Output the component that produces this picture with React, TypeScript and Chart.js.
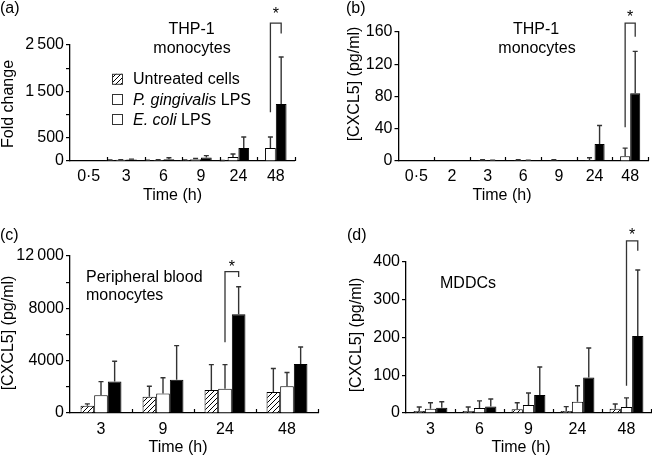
import React, { useEffect, useRef } from 'react';
import { Chart, registerables } from 'chart.js';

Chart.register(...registerables);

const FONT = '"Liberation Sans", Arial, Helvetica, sans-serif';
const W = 652;
const H = 458;

// ---------- Panel (a): THP-1 monocytes, fold change ----------
const aCategories = ['0\u00b75', '3', '6', '9', '24', '48'];
const aUntreated = [0, 15, 10, 20, 5, 0];
const aUntreatedSd = [0, 5, 5, 5, 5, 0];
const aPg = [0, 25, 20, 40, 85, 280];
const aPgSd = [0, 5, 10, 15, 65, 237];
const aEc = [0, 30, 40, 75, 280, 1230];
const aEcSd = [0, 10, 30, 40, 237, 1010];
const aTickValues = [0, 500, 1000, 1500, 2000, 2500];
const aTickLabels = ['0', '500', '', '1\u2009500', '', '2\u2009500'];
const aBracket = { group: 5, leftBottom: 1050, rightBottom: 2750, top: 2970 };

// ---------- Panel (b): THP-1 monocytes, CXCL5 pg/ml ----------
const bCategories = ['0\u00b75', '2', '3', '6', '9', '24', '48'];
const bUntreated = [0, 0, 0, 0, 0, 0, 0];
const bUntreatedSd = [0, 0, 0, 0, 0, 0, 0];
const bPg = [0, 0, 1, 1, 1, 1, 6];
const bPgSd = [0, 0, 0.5, 0.5, 0.5, 3, 10];
const bEc = [0, 0, 0.5, 0.5, 0.5, 21, 84];
const bEcSd = [0, 0, 0.5, 0.5, 0, 23, 52];
const bTickValues = [0, 20, 40, 60, 80, 100, 120, 140, 160];
const bTickLabels = ['0', '', '40', '', '80', '', '120', '', '160'];
const bBracket = { group: 6, leftBottom: 42, rightBottom: 154, top: 171 };

// ---------- Panel (c): peripheral blood monocytes ----------
const cCategories = ['3', '9', '24', '48'];
const cUntreated = [550, 1250, 1750, 1600];
const cUntreatedSd = [150, 800, 1950, 1800];
const cPg = [1350, 1500, 1850, 2050];
const cPgSd = [1050, 1200, 1850, 1050];
const cEc = [2400, 2550, 7550, 3750];
const cEcSd = [1550, 2600, 2100, 1300];
const cTickValues = [0, 2000, 4000, 6000, 8000, 10000, 12000];
const cTickLabels = ['0', '', '4000', '', '8000', '', '12\u2009000'];
const cBracket = { group: 2, leftBottom: 5400, rightBottom: 10400, top: 10800 };

// ---------- Panel (d): MDDCs ----------
const dCategories = ['3', '6', '9', '24', '48'];
const dUntreated = [5, 5, 10, 5, 11];
const dUntreatedSd = [11, 11, 17, 12, 13];
const dPg = [11, 13, 21, 30, 16];
const dPgSd = [16, 19, 32, 42, 24];
const dEc = [14, 17, 48, 94, 204];
const dEcSd = [16, 20, 74, 78, 175];
const dTickValues = [0, 50, 100, 150, 200, 250, 300, 350, 400];
const dTickLabels = ['0', '', '100', '', '200', '', '300', '', '400'];
const dBracket = { group: 4, leftBottom: 72, rightBottom: 430, top: 456 };

const seriesNames = ['Untreated cells', 'P. gingivalis LPS', 'E. coli LPS'];

type Fill = 'hatch' | 'white' | 'black';
type TextItem = { t: string; x: number; y: number; align?: CanvasTextAlign };
type Panel = {
  categories: string[];
  series: { values: number[]; sd: number[]; fill: Fill }[];
  yMax: number;
  tickValues: number[];
  tickLabels: string[];
  area: { l: number; r: number; t: number; b: number };
  catPct: number;
  slots: number;
  xPad: number;
  bracket: { group: number; leftBottom: number; rightBottom: number; top: number };
  starDy: number;
  texts: TextItem[];
  yTitle: { t: string; x: number; y: number };
  xTitle: { t: string; x: number; y: number };
  legend: boolean;
};

const fills: Fill[] = ['hatch', 'white', 'black'];
function mkSeries(vals: number[][], sds: number[][]) {
  return vals.map((v, i) => ({ values: v, sd: sds[i], fill: fills[i] }));
}

const PANELS: Panel[] = [
  {
    categories: aCategories,
    series: mkSeries([aUntreated, aPg, aEc], [aUntreatedSd, aPgSd, aEcSd]),
    yMax: 2500,
    tickValues: aTickValues,
    tickLabels: aTickLabels,
    area: { l: 70, r: 294.5, t: 45, b: 161 },
    catPct: 1.15,
    slots: 4,
    xPad: 5.5,
    bracket: aBracket,
    starDy: -4.5,
    texts: [
      { t: '(a)', x: 0, y: 12.5 },
      { t: 'THP-1', x: 191.5, y: 33.5, align: 'center' },
      { t: 'monocytes', x: 192, y: 52.5, align: 'center' },
    ],
    yTitle: { t: 'Fold change', x: 9, y: 104 },
    xTitle: { t: 'Time (h)', x: 172.5, y: 196 },
    legend: true,
  },
  {
    categories: bCategories,
    series: mkSeries([bUntreated, bPg, bEc], [bUntreatedSd, bPgSd, bEcSd]),
    yMax: 160,
    tickValues: bTickValues,
    tickLabels: bTickLabels,
    area: { l: 398.5, r: 648, t: 32, b: 161 },
    catPct: 1.13,
    slots: 4,
    xPad: 5.5,
    bracket: bBracket,
    starDy: -1.5,
    texts: [
      { t: '(b)', x: 346, y: 12.5 },
      { t: 'THP-1', x: 536, y: 33.5, align: 'center' },
      { t: 'monocytes', x: 537, y: 52.5, align: 'center' },
    ],
    yTitle: { t: '[CXCL5] (pg/ml)', x: 355, y: 84 },
    xTitle: { t: 'Time (h)', x: 502, y: 196 },
    legend: false,
  },
  {
    categories: cCategories,
    series: mkSeries([cUntreated, cPg, cEc], [cUntreatedSd, cPgSd, cEcSd]),
    yMax: 12000,
    tickValues: cTickValues,
    tickLabels: cTickLabels,
    area: { l: 70, r: 318, t: 256, b: 413 },
    catPct: 0.66,
    slots: 3,
    xPad: 6.5,
    bracket: cBracket,
    starDy: 0,
    texts: [
      { t: '(c)', x: 0, y: 240 },
      { t: 'Peripheral blood', x: 86, y: 281.5 },
      { t: 'monocytes', x: 86, y: 300 },
    ],
    yTitle: { t: '[CXCL5] (pg/ml)', x: 9, y: 333 },
    xTitle: { t: 'Time (h)', x: 178, y: 448 },
    legend: false,
  },
  {
    categories: dCategories,
    series: mkSeries([dUntreated, dPg, dEc], [dUntreatedSd, dPgSd, dEcSd]),
    yMax: 400,
    tickValues: dTickValues,
    tickLabels: dTickLabels,
    area: { l: 406, r: 651, t: 262, b: 413 },
    catPct: 0.69,
    slots: 3,
    xPad: 6.5,
    bracket: dBracket,
    starDy: -1,
    texts: [
      { t: '(d)', x: 347, y: 240 },
      { t: 'MDDCs', x: 440, y: 287.5 },
    ],
    yTitle: { t: '[CXCL5] (pg/ml)', x: 357, y: 335 },
    xTitle: { t: 'Time (h)', x: 521, y: 448 },
    legend: false,
  },
];

function makeHatch(ctx: CanvasRenderingContext2D): CanvasPattern | string {
  const c = document.createElement('canvas');
  const s = 5;
  c.width = s;
  c.height = s;
  const g = c.getContext('2d');
  if (!g) return '#fff';
  g.fillStyle = '#fff';
  g.fillRect(0, 0, s, s);
  g.strokeStyle = '#000';
  g.lineWidth = 1;
  g.beginPath();
  g.moveTo(-1, s + 1);
  g.lineTo(s + 1, -1);
  g.moveTo(-1, 1);
  g.lineTo(1, -1);
  g.moveTo(s - 1, s + 1);
  g.lineTo(s + 1, s - 1);
  g.stroke();
  return ctx.createPattern(c, 'repeat') || '#fff';
}

const YW = 62;
const XH = 30;

function buildChart(canvas: HTMLCanvasElement, p: Panel): Chart {
  const ctx = canvas.getContext('2d') as CanvasRenderingContext2D;
  const hatch = makeHatch(ctx);
  const colorFor = (f: Fill) => (f === 'hatch' ? hatch : f === 'white' ? '#ffffff' : '#000000');

  const datasets: any[] = p.series.map((s, k) => ({
    label: seriesNames[k],
    data: s.values,
    backgroundColor: colorFor(s.fill),
    borderColor: '#000',
    borderWidth: 1,
  }));
  if (p.slots === 4) {
    // empty slot so that the three bars sit like in the original figure
    datasets.push({ label: '', data: p.categories.map(() => null), backgroundColor: 'rgba(0,0,0,0)', borderWidth: 0 });
  }

  const extras = {
    id: 'panelExtras',
    afterDatasetsDraw(chart: any) {
      const c = chart.ctx as CanvasRenderingContext2D;
      const y = chart.scales.y;
      c.save();
      c.strokeStyle = '#333';
      c.lineWidth = 1.4;
      p.series.forEach((s, k) => {
        const meta = chart.getDatasetMeta(k);
        meta.data.forEach((el: any, i: number) => {
          const sd = s.sd[i];
          if (!sd) return;
          const top = y.getPixelForValue(s.values[i] + sd);
          const cap = Math.min(5, el.width * 0.5);
          c.beginPath();
          c.moveTo(el.x, el.y);
          c.lineTo(el.x, top);
          c.moveTo(el.x - cap / 2, top);
          c.lineTo(el.x + cap / 2, top);
          c.stroke();
        });
      });
      c.restore();
    },
    afterDraw(chart: any) {
      const c = chart.ctx as CanvasRenderingContext2D;
      const x = chart.scales.x;
      const y = chart.scales.y;
      const area = chart.chartArea;
      c.save();
      // group separator ticks (pointing up from the axis)
      c.strokeStyle = '#000';
      c.lineWidth = 1.2;
      c.beginPath();
      for (let i = 1; i <= p.categories.length; i++) {
        const px = Math.round(x.getPixelForValue(i - 0.5)) + 0.5;
        c.moveTo(px, area.bottom);
        c.lineTo(px, area.bottom - 4);
      }
      c.stroke();

      // significance bracket
      const b = p.bracket;
      const lx = chart.getDatasetMeta(1).data[b.group].x;
      const rx = chart.getDatasetMeta(2).data[b.group].x;
      const ty = y.getPixelForValue(b.top);
      c.strokeStyle = '#333';
      c.lineWidth = 1.3;
      c.beginPath();
      c.moveTo(lx, y.getPixelForValue(b.leftBottom));
      c.lineTo(lx, ty);
      c.lineTo(rx, ty);
      c.lineTo(rx, y.getPixelForValue(b.rightBottom));
      c.stroke();

      c.fillStyle = '#000';
      c.font = `16px ${FONT}`;
      c.textBaseline = 'alphabetic';
      c.textAlign = 'center';
      c.fillText('*', (lx + rx) / 2, ty + p.starDy);

      // texts
      p.texts.forEach((t) => {
        c.textAlign = t.align || 'left';
        c.fillText(t.t, t.x, t.y);
      });

      // axis titles
      c.textAlign = 'center';
      c.textBaseline = 'middle';
      c.fillText(p.xTitle.t, p.xTitle.x, p.xTitle.y);
      c.save();
      c.translate(p.yTitle.x, p.yTitle.y);
      c.rotate(-Math.PI / 2);
      c.fillText(p.yTitle.t, 0, 0);
      c.restore();

      // legend
      if (p.legend) {
        const rows = [
          { fill: colorFor('hatch'), parts: [{ s: 'Untreated cells', it: false }] },
          { fill: '#fff', parts: [{ s: 'P. gingivalis', it: true }, { s: ' LPS', it: false }] },
          { fill: '#fff', parts: [{ s: 'E. coli', it: true }, { s: ' LPS', it: false }] },
        ];
        const baselines = [84.3, 104.5, 124.5];
        c.textAlign = 'left';
        c.textBaseline = 'alphabetic';
        rows.forEach((r, i) => {
          const by = baselines[i];
          c.fillStyle = r.fill as any;
          c.fillRect(112, by - 10.5, 11, 11);
          c.strokeStyle = '#333';
          c.lineWidth = 1;
          c.strokeRect(112.5, by - 10, 10, 10);
          c.fillStyle = '#000';
          let tx = 133;
          r.parts.forEach((pt) => {
            c.font = `${pt.it ? 'italic ' : ''}16px ${FONT}`;
            c.fillText(pt.s, tx, by);
            tx += c.measureText(pt.s).width;
          });
        });
      }
      c.restore();
    },
  };

  return new Chart(canvas, {
    type: 'bar',
    data: { labels: p.categories, datasets },
    options: {
      responsive: false,
      maintainAspectRatio: false,
      animation: false,
      devicePixelRatio: 1,
      events: [],
      layout: {
        padding: {
          left: p.area.l - YW,
          right: W - p.area.r,
          top: p.area.t,
          bottom: H - p.area.b - XH,
        },
      },
      datasets: { bar: { categoryPercentage: p.catPct, barPercentage: 1 } },
      plugins: { legend: { display: false }, tooltip: { enabled: false } },
      scales: {
        x: {
          type: 'category',
          offset: true,
          grid: { display: false, drawTicks: false },
          border: { display: true, color: '#000', width: 1.3 },
          ticks: {
            color: '#000',
            font: { family: FONT, size: 16 },
            padding: p.xPad,
            maxRotation: 0,
            autoSkip: false,
          },
          afterFit: (s: any) => {
            s.height = XH;
          },
        },
        y: {
          type: 'linear',
          min: 0,
          max: p.yMax,
          border: { display: true, color: '#000', width: 1.3 },
          grid: { display: true, drawOnChartArea: false, drawTicks: true, tickLength: 4, color: '#000', lineWidth: 1.2 },
          ticks: {
            color: '#000',
            font: { family: FONT, size: 16 },
            padding: 2,
            callback: (v: any) => {
              const idx = p.tickValues.indexOf(Number(v));
              return idx >= 0 ? p.tickLabels[idx] : '';
            },
          },
          afterBuildTicks: (s: any) => {
            s.ticks = p.tickValues.map((v) => ({ value: v }));
          },
          afterFit: (s: any) => {
            s.width = YW;
          },
        },
      },
    } as any,
    plugins: [extras as any],
  });
}

function PanelChart({ panel }: { panel: Panel }) {
  const ref = useRef<HTMLCanvasElement>(null);
  useEffect(() => {
    if (!ref.current) return;
    const chart = buildChart(ref.current, panel);
    return () => chart.destroy();
  }, [panel]);
  return (
    <canvas
      ref={ref}
      width={W}
      height={H}
      style={{ position: 'absolute', left: 0, top: 0, width: W, height: H }}
    />
  );
}

export default function App() {
  return (
    <div style={{ position: 'absolute', left: 0, top: 0, width: W, height: H, background: '#fff', overflow: 'hidden' }}>
      {PANELS.map((p, i) => (
        <PanelChart key={i} panel={p} />
      ))}
    </div>
  );
}
